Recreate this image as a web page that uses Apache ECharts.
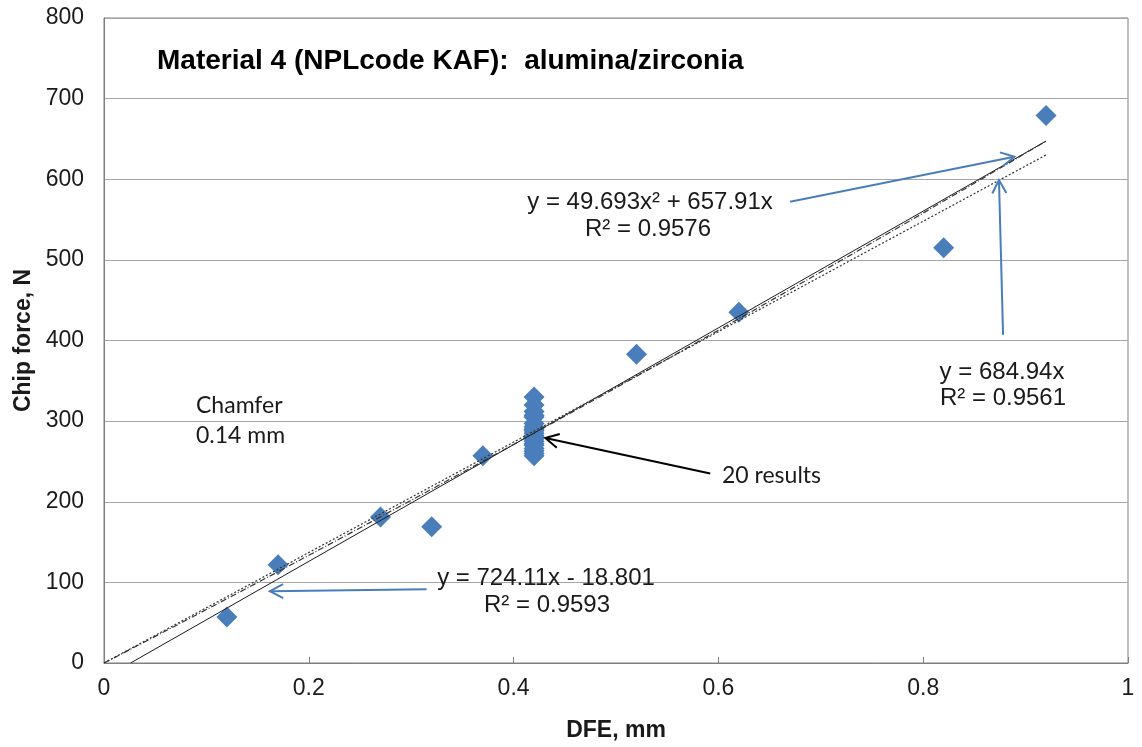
<!DOCTYPE html>
<html>
<head>
<meta charset="utf-8">
<script src="https://cdn.jsdelivr.net/npm/echarts@6/dist/echarts.min.js"></script>
<style>
  html, body { margin: 0; padding: 0; background: #ffffff; }
  #chart { width: 1142px; height: 747px; }
</style>
</head>
<body>
<div id="chart"></div>
<script>
// Depth of edge flake (DFE, mm) and measured chip force (N)
const dfe = [0.12, 0.17, 0.27, 0.32, 0.37,
  0.42, 0.42, 0.42, 0.42, 0.42, 0.42, 0.42, 0.42, 0.42, 0.42,
  0.42, 0.42, 0.42, 0.42, 0.42, 0.42, 0.42, 0.42, 0.42, 0.42,
  0.52, 0.62, 0.82, 0.92];
const chipForce = [57, 122, 181, 169, 257,
  257, 260, 263, 266, 270, 272, 275, 278, 280, 282,
  285, 288, 290, 293, 297, 305, 307, 312, 320, 330,
  383, 435, 515, 679];

// Trendline coefficients as reported on the chart
const linearFit = { slope: 724.11, intercept: -18.801, r2: 0.9593 };
const originFit = { slope: 684.94, r2: 0.9561 };
const polyFit = { a2: 49.693, a1: 657.91, r2: 0.9576 };
const fitEnd = 0.92;

// Axis settings
const xRange = [0, 1];
const xStep = 0.2;
const yRange = [0, 800];
const yStep = 100;

// Annotation arrows: [fromX, fromY, toX, toY] in data units
const arrowPoly = [0.670, 572, 0.889, 628];
const arrowOrigin = [0.878, 407, 0.874, 599];
const arrowLinear = [0.315, 91.5, 0.162, 89];
const arrowCluster = [0.592, 235, 0.431, 279];

const blue = '#4a7ebb';

// Trendline point sets built from the reported equations
const linearLine = [
  [-linearFit.intercept / linearFit.slope, 0],
  [fitEnd, linearFit.slope * fitEnd + linearFit.intercept]
];
const originLine = [[0, 0], [fitEnd, originFit.slope * fitEnd]];
const polyLine = [];
for (let i = 0; i <= 46; i++) {
  const x = fitEnd * i / 46;
  polyLine.push([x, polyFit.a2 * x * x + polyFit.a1 * x]);
}

const chart = echarts.init(document.getElementById('chart'), null, { renderer: 'canvas' });

const labelFont = { fontFamily: 'Liberation Sans, Arial, sans-serif', fontSize: 23, color: '#1a1a1a' };

chart.setOption({
  animation: false,
  backgroundColor: '#ffffff',
  grid: {
    left: 104, right: 14, top: 18, bottom: 83,
    show: true, borderColor: '#7f7f7f', borderWidth: 1, backgroundColor: 'transparent'
  },
  xAxis: {
    type: 'value', min: xRange[0], max: xRange[1], interval: xStep,
    name: 'DFE, mm', nameLocation: 'middle', nameGap: 56,
    nameTextStyle: { fontFamily: 'Liberation Sans, Arial, sans-serif', fontSize: 23, fontWeight: 'bold', color: '#1a1a1a' },
    axisLine: { show: true, lineStyle: { color: '#7f7f7f', width: 1 } },
    axisTick: { show: true, inside: true, length: 6, lineStyle: { color: '#7f7f7f' } },
    axisLabel: Object.assign({ margin: 14 }, labelFont),
    splitLine: { show: false }
  },
  yAxis: {
    type: 'value', min: yRange[0], max: yRange[1], interval: yStep,
    name: 'Chip force, N', nameLocation: 'middle', nameGap: 67,
    nameTextStyle: { fontFamily: 'Liberation Sans, Arial, sans-serif', fontSize: 23, fontWeight: 'bold', color: '#1a1a1a' },
    axisLine: { show: true, lineStyle: { color: '#7f7f7f', width: 1 } },
    axisTick: { show: false },
    axisLabel: Object.assign({ margin: 20 }, labelFont),
    splitLine: { show: true, lineStyle: { color: '#a6a6a6', width: 1 } }
  },
  series: [
    {
      name: 'Chip force', type: 'scatter', z: 2,
      symbol: 'diamond', symbolSize: 21,
      itemStyle: { color: blue, opacity: 1 },
      data: dfe.map((x, i) => [x, chipForce[i]])
    },
    {
      name: 'Linear', type: 'line', z: 3, symbol: 'none', silent: true,
      lineStyle: { color: '#1a1a1a', width: 1 },
      data: linearLine
    },
    {
      name: 'Linear (origin)', type: 'line', z: 3, symbol: 'none', silent: true,
      lineStyle: { color: '#333333', width: 1.2, type: [2, 2] },
      data: originLine
    },
    {
      name: 'Polynomial', type: 'line', z: 3, symbol: 'none', silent: true, smooth: false,
      lineStyle: { color: '#333333', width: 1.2, type: [6, 2, 1, 2] },
      data: polyLine
    }
  ]
});

// Arrow annotations placed through the grid's coordinate system
function arrowShapes(a, color, width) {
  const p1 = chart.convertToPixel({ gridIndex: 0 }, [a[0], a[1]]);
  const p2 = chart.convertToPixel({ gridIndex: 0 }, [a[2], a[3]]);
  const dx = p2[0] - p1[0], dy = p2[1] - p1[1];
  const d = Math.hypot(dx, dy);
  const ux = dx / d, uy = dy / d;
  const len = 15, ang = 28 * Math.PI / 180;
  const c = Math.cos(ang), s = Math.sin(ang);
  const h1 = [p2[0] - len * (ux * c - uy * s), p2[1] - len * (uy * c + ux * s)];
  const h2 = [p2[0] - len * (ux * c + uy * s), p2[1] - len * (uy * c - ux * s)];
  return [
    { type: 'line', silent: true, z: 10, shape: { x1: p1[0], y1: p1[1], x2: p2[0], y2: p2[1] },
      style: { stroke: color, lineWidth: width } },
    { type: 'polyline', silent: true, z: 10, shape: { points: [h1, p2, h2] },
      style: { stroke: color, lineWidth: width, fill: null } }
  ];
}

function txt(text, x, y, opts) {
  return {
    type: 'text', silent: true, z: 11, x: x, y: y,
    style: Object.assign({
      text: text,
      fontFamily: 'Liberation Sans, Arial, sans-serif',
      fontSize: 24, fill: '#1a1a1a',
      textAlign: 'center', textVerticalAlign: 'middle'
    }, opts || {})
  };
}

const calibriLike = 'Lato, "Open Sans", sans-serif';

const graphics = []
  .concat(arrowShapes(arrowPoly, blue, 2))
  .concat(arrowShapes(arrowOrigin, blue, 2))
  .concat(arrowShapes(arrowLinear, blue, 2))
  .concat(arrowShapes(arrowCluster, '#000000', 2))
  .concat([
    txt('Material 4 (NPLcode KAF):  alumina/zirconia', 157, 61,
      { fontSize: 28, fontWeight: 'bold', textAlign: 'left', fill: '#000000' }),
    txt('y = ' + polyFit.a2 + 'x\u00b2 + ' + polyFit.a1 + 'x', 650, 202),
    txt('R\u00b2 = ' + polyFit.r2, 648, 229),
    txt('y = ' + originFit.slope + 'x', 1002, 372),
    txt('R\u00b2 = ' + originFit.r2, 1003, 398),
    txt('y = ' + linearFit.slope + 'x - ' + Math.abs(linearFit.intercept), 546, 578),
    txt('R\u00b2 = ' + linearFit.r2, 547, 605),
    txt('Chamfer', 196, 406, { fontFamily: calibriLike, fontSize: 23, textAlign: 'left' }),
    txt('0.14 mm', 196, 436, { fontFamily: calibriLike, fontSize: 23, textAlign: 'left' }),
    txt('20 results', 722, 476, { fontFamily: calibriLike, fontSize: 23, textAlign: 'left' })
  ]);

chart.setOption({ graphic: graphics });
</script>
</body>
</html>
